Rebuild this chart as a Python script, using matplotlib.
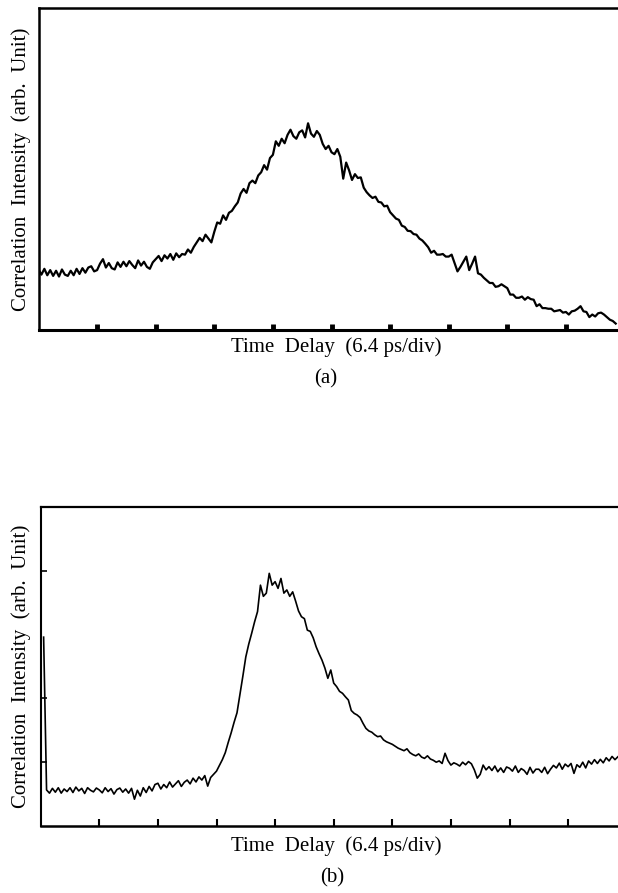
import numpy as np
import matplotlib
matplotlib.use("Agg")
import matplotlib.pyplot as plt

plt.rcParams['font.family'] = ['Liberation Serif', 'DejaVu Serif']

# scope traces, sampled every 0.05 div (1 div = 6.4 ps)
step_div = 0.05

# (a) correlation trace, starts at 0 div
intensity_a = [
    1.88, 1.72, 1.90, 1.70, 1.86, 1.68, 1.84, 1.66, 1.88, 1.72,
    1.68, 1.84, 1.70, 1.90, 1.74, 1.92, 1.78, 1.94, 1.98, 1.82,
    1.86, 2.06, 2.20, 1.94, 2.08, 1.92, 1.88, 2.10, 1.96, 2.12,
    1.98, 2.14, 2.02, 1.92, 2.16, 2.00, 2.12, 1.96, 1.90, 2.10,
    2.20, 2.30, 2.14, 2.32, 2.22, 2.36, 2.18, 2.38, 2.26, 2.36,
    2.34, 2.50, 2.40, 2.58, 2.72, 2.86, 2.76, 2.96, 2.84, 2.72,
    3.05, 3.34, 3.30, 3.56, 3.42, 3.64, 3.70, 3.84, 3.96, 4.24,
    4.38, 4.26, 4.56, 4.64, 4.56, 4.80, 4.90, 5.12, 4.98, 5.34,
    5.44, 5.86, 5.72, 5.94, 5.80, 6.06, 6.22, 6.02, 5.94, 6.14,
    6.20, 5.98, 6.42, 6.10, 6.00, 6.18, 6.06, 5.78, 5.62, 5.72,
    5.52, 5.46, 5.62, 5.38, 4.70, 5.20, 4.96, 4.66, 4.84, 4.72,
    4.74, 4.42, 4.28, 4.18, 4.10, 4.14, 3.98, 3.96, 3.84, 3.86,
    3.66, 3.56, 3.46, 3.42, 3.24, 3.20, 3.08, 3.07, 2.98, 2.96,
    2.84, 2.78, 2.68, 2.57, 2.40, 2.46, 2.34, 2.34, 2.36, 2.28,
    2.28, 2.34, 2.08, 1.82, 1.96, 2.12, 2.28, 1.86, 2.06, 2.28,
    1.76, 1.72, 1.62, 1.54, 1.46, 1.46, 1.34, 1.36, 1.42, 1.36,
    1.30, 1.10, 1.10, 1.00, 1.00, 1.04, 0.94, 1.02, 0.96, 0.94,
    0.74, 0.80, 0.68, 0.68, 0.66, 0.66, 0.58, 0.60, 0.62, 0.54,
    0.56, 0.48, 0.58, 0.60, 0.66, 0.74, 0.58, 0.56, 0.40, 0.48,
    0.42, 0.52, 0.54, 0.48, 0.40, 0.32, 0.28, 0.20,
]

# (b) correlation trace, starts at 0.05 div
intensity_b = [
    5.92,
    1.13, 1.03, 1.18, 1.06, 1.20, 1.03, 1.16, 1.08,
    1.20, 1.05, 1.22, 1.10, 1.18, 1.02, 1.20, 1.12, 1.07, 1.19,
    1.13, 1.04, 1.20, 1.08, 1.17, 1.00, 1.14, 1.19, 1.06, 1.16,
    1.03, 1.18, 0.84, 1.12, 0.94, 1.20, 1.05, 1.24, 1.10, 1.30,
    1.34, 1.16, 1.30, 1.20, 1.38, 1.22, 1.32, 1.42, 1.24, 1.37,
    1.44, 1.32, 1.50, 1.38, 1.54, 1.44, 1.58, 1.25, 1.52, 1.62,
    1.72, 1.90, 2.08, 2.30, 2.62, 2.92, 3.25, 3.55, 4.12, 4.70,
    5.30, 5.70, 6.04, 6.40, 6.72, 7.55, 7.20, 7.30, 7.92, 7.55,
    7.66, 7.45, 7.76, 7.30, 7.40, 7.20, 7.34, 7.05, 6.74, 6.56,
    6.50, 6.14, 6.10, 5.90, 5.62, 5.40, 5.20, 4.95, 4.63, 4.89,
    4.48, 4.37, 4.22, 4.16, 4.05, 3.95, 3.62, 3.53, 3.48, 3.40,
    3.22, 3.06, 2.98, 2.94, 2.86, 2.80, 2.82, 2.70, 2.64, 2.60,
    2.56, 2.50, 2.44, 2.40, 2.36, 2.42, 2.30, 2.24, 2.20, 2.26,
    2.16, 2.12, 2.20, 2.10, 2.06, 2.00, 2.04, 1.96, 2.28, 2.05,
    1.91, 1.98, 1.94, 1.88, 2.00, 1.92, 2.02, 1.95, 1.76, 1.50,
    1.62, 1.91, 1.76, 1.86, 1.74, 1.88, 1.70, 1.82, 1.68, 1.85,
    1.81, 1.72, 1.88, 1.68, 1.80, 1.74, 1.62, 1.84, 1.66, 1.78,
    1.78, 1.68, 1.84, 1.64, 1.78, 1.90, 1.82, 1.97, 1.78, 1.94,
    1.86, 1.96, 1.65, 1.92, 1.84, 2.00, 1.82, 2.04, 1.94, 2.08,
    1.96, 2.09, 1.98, 2.14, 2.04, 2.18, 2.08, 2.17,
]

div_ticks = [1, 2, 3, 4, 5, 6, 7, 8, 9]
left_ticks_b = [2, 4, 8]

ylabel = "Correlation  Intensity  (arb.  Unit)"
xlabel = "Time  Delay  (6.4 ps/div)"

delay_a = np.arange(len(intensity_a)) * step_div
delay_b = 0.05 + np.arange(len(intensity_b)) * step_div

W, H = 618, 893
fig = plt.figure(figsize=(W / 100, H / 100), dpi=100)

# (a)
ax1 = fig.add_axes([38.5 / W, 1 - 330 / H, (W - 38.5) / W, 322 / H])
ax1.plot(delay_a, intensity_a, color='black', lw=1.6)
ax1.set_xlim(0, (W - 38.5) / 58.6)
ax1.set_ylim(0, 10)
ax1.spines['right'].set_visible(False)
ax1.spines['bottom'].set_linewidth(2.2)
ax1.spines['left'].set_linewidth(1.8)
ax1.spines['top'].set_linewidth(1.8)
ax1.set_xticks(div_ticks)
ax1.set_yticks([])
ax1.tick_params(axis='x', direction='in', length=4, width=3.5, labelbottom=False)

# (b)
ax2 = fig.add_axes([40.7 / W, 1 - 826 / H, (W - 40.7) / W, 319 / H])
ax2.plot(delay_b, intensity_b, color='black', lw=1.2)
ax2.set_xlim(0, (W - 40.7) / 58.6)
ax2.set_ylim(0, 10)
ax2.spines['right'].set_visible(False)
ax2.spines['bottom'].set_linewidth(1.8)
ax2.spines['left'].set_linewidth(1.5)
ax2.spines['top'].set_linewidth(1.6)
ax2.set_xticks(div_ticks)
ax2.set_yticks(left_ticks_b)
ax2.tick_params(axis='x', direction='in', length=5, width=1.5, labelbottom=False)
ax2.tick_params(axis='y', direction='in', length=4, width=1.2, labelleft=False)

for ax, top, bot in [(ax1, 8, 330), (ax2, 507, 826)]:
    fig.text(21 / W, 1 - (top + bot) / 2 / H, ylabel, rotation=90,
             ha='center', va='center', fontsize=15)

fig.text(336 / W, 1 - 347 / H, xlabel, ha='center', va='center', fontsize=15)
fig.text(326 / W, 1 - 379 / H, "(a)", ha='center', va='center', fontsize=15)
fig.text(336 / W, 1 - 846 / H, xlabel, ha='center', va='center', fontsize=15)
fig.text(332 / W, 1 - 878 / H, "(b)", ha='center', va='center', fontsize=15)

fig.savefig("out.png", dpi=100, facecolor='white')
